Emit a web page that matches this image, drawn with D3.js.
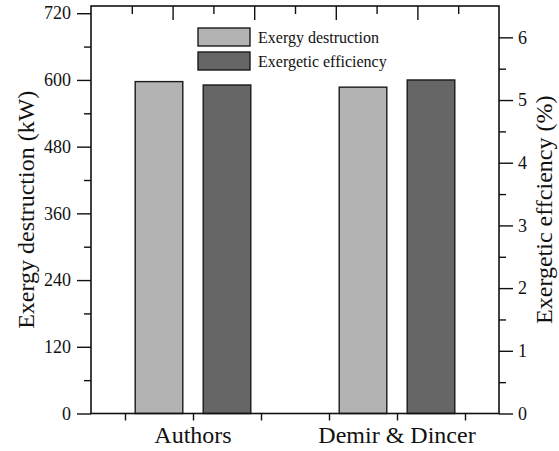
<!DOCTYPE html>
<html lang="en">
<head>
<meta charset="UTF-8">
<title>Exergy destruction vs exergetic efficiency</title>
<script src="https://d3js.org/d3.v7.min.js"></script>
<style>
  body { margin: 0; background: #fff; }
</style>
</head>
<body>
<svg width="559" height="451" font-family="Liberation Serif"></svg>
<script>
// data
const categories = ["Authors", "Demir & Dincer"];
const destruction = [597, 587];     // kW, left axis
const efficiency = [5.24, 5.32];    // %, right axis
const leftTicks = [0, 120, 240, 360, 480, 600, 720];
const rightTicks = [0, 1, 2, 3, 4, 5, 6];

const FONT = "Liberation Serif";
const svg = d3.select("svg");
const plotL = 91, plotR = 499, plotT = 6, plotB = 413.5;

// x: category slots 1..6, categories sit at 2 and 5
const x = d3.scaleLinear().domain([0.5, 6.5]).range([plotL, plotR]);
const catPos = [2, 5];
const barW = 0.7;

const yL = d3.scaleLinear().domain([0, 733]).range([plotB, plotT]);
const yR = d3.scaleLinear().domain([0, 6.5]).range([plotB, plotT]);
const xTop = d3.scaleLinear().domain([0, 5]).range([plotL, plotR]);

// bars
const g = svg.append("g");
categories.forEach((c, i) => {
    g.append("rect")
        .attr("x", x(catPos[i] - 0.5 - barW / 2))
        .attr("y", yL(destruction[i]))
        .attr("width", x(barW) - x(0))
        .attr("height", plotB - yL(destruction[i]))
        .attr("fill", "#b3b3b3").attr("stroke", "#1a1a1a").attr("stroke-width", 1.4);
    g.append("rect")
        .attr("x", x(catPos[i] + 0.5 - barW / 2))
        .attr("y", yR(efficiency[i]))
        .attr("width", x(barW) - x(0))
        .attr("height", plotB - yR(efficiency[i]))
        .attr("fill", "#666666").attr("stroke", "#1a1a1a").attr("stroke-width", 1.4);
});

// axes
function styleAxis(sel) {
    sel.attr("font-family", FONT).attr("font-size", null);
    sel.select(".domain").remove();
    sel.selectAll("line").attr("stroke", "#111").attr("stroke-width", 1.4);
    sel.selectAll("text").attr("font-size", "18px").attr("fill", "#111");
}

// left
svg.append("g").attr("transform", `translate(${plotL},0)`)
    .call(d3.axisLeft(yL).tickValues(leftTicks).tickSize(14).tickPadding(6))
    .call(styleAxis);
svg.append("g").attr("transform", `translate(${plotL},0)`)
    .call(d3.axisLeft(yL).tickValues(leftTicks.slice(0, -1).map(v => v + 60)).tickSize(7).tickFormat(""))
    .call(styleAxis);

// right
svg.append("g").attr("transform", `translate(${plotR},0)`)
    .call(d3.axisRight(yR).tickValues(rightTicks).tickSize(14).tickPadding(5).tickFormat(d3.format("d")))
    .call(styleAxis);
svg.append("g").attr("transform", `translate(${plotR},0)`)
    .call(d3.axisRight(yR).tickValues(rightTicks.slice(0, -1).map(v => v + 0.5)).tickSize(7).tickFormat(""))
    .call(styleAxis);

// bottom
svg.append("g").attr("transform", `translate(0,${plotB})`)
    .call(d3.axisBottom(x).tickValues([1, 2, 3, 4, 5, 6]).tickSize(7).tickFormat(""))
    .call(styleAxis);
categories.forEach((c, i) => {
    svg.append("text")
        .attr("x", x(catPos[i]))
        .attr("y", 443)
        .attr("text-anchor", "middle")
        .attr("font-family", FONT)
        .attr("font-size", "24px")
        .attr("fill", "#111")
        .text(c);
});

// top (inward ticks, no labels)
svg.append("g").attr("transform", `translate(0,${plotT})`)
    .call(d3.axisBottom(xTop).tickValues([1, 2, 3, 4]).tickSize(14).tickFormat(""))
    .call(styleAxis);
svg.append("g").attr("transform", `translate(0,${plotT})`)
    .call(d3.axisBottom(xTop).tickValues([0.5, 1.5, 2.5, 3.5, 4.5]).tickSize(8).tickFormat(""))
    .call(styleAxis);

// frame
svg.append("rect")
    .attr("x", plotL).attr("y", plotT)
    .attr("width", plotR - plotL).attr("height", plotB - plotT)
    .attr("fill", "none").attr("stroke", "#111").attr("stroke-width", 1.6);

// axis titles
svg.append("text")
    .attr("transform", `translate(34,${(plotT + plotB) / 2}) rotate(-90)`)
    .attr("text-anchor", "middle")
    .attr("font-family", FONT)
    .attr("font-size", "24px")
    .attr("fill", "#111")
    .text("Exergy destruction (kW)");
svg.append("text")
    .attr("transform", `translate(552,${(plotT + plotB) / 2}) rotate(-90)`)
    .attr("text-anchor", "middle")
    .attr("font-family", FONT)
    .attr("font-size", "24px")
    .attr("fill", "#111")
    .text("Exergetic effciency (%)");

// legend
const legend = [
    { label: "Exergy destruction", fill: "#b3b3b3", y: 28 },
    { label: "Exergetic efficiency", fill: "#666666", y: 52 }
];
legend.forEach(d => {
    svg.append("rect")
        .attr("x", 198).attr("y", d.y)
        .attr("width", 52).attr("height", 18)
        .attr("fill", d.fill).attr("stroke", "#1a1a1a").attr("stroke-width", 1.4);
    svg.append("text")
        .attr("x", 258).attr("y", d.y + 15)
        .attr("font-family", FONT)
        .attr("font-size", "16px")
        .attr("fill", "#111")
        .text(d.label);
});
</script>
</body>
</html>
